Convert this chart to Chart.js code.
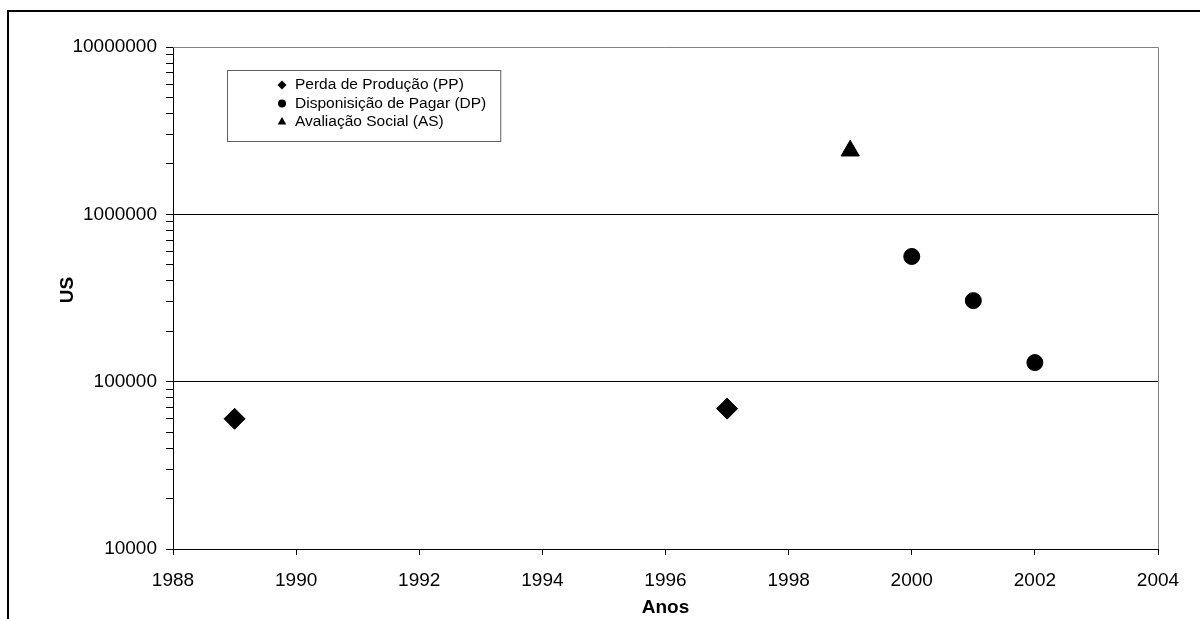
<!DOCTYPE html>
<html>
<head>
<meta charset="utf-8">
<script src="https://cdn.jsdelivr.net/npm/chart.js@4.4.0/dist/chart.umd.min.js"></script>
<style>
  html, body { margin: 0; padding: 0; background: #fff; overflow: hidden; }
  #wrap { width: 1200px; height: 619px; position: relative; }
</style>
</head>
<body>
<div id="wrap"><canvas id="c" width="1200" height="619"></canvas></div>
<script>
// Valores estimados (US) por método de avaliação e ano
const ppYears = [1989, 1997];
const ppValues = [60000, 69000];
const dpYears = [2000, 2001, 2002];
const dpValues = [560000, 305000, 130000];
const asYears = [1999];
const asValues = [2400000];

const seriesLabels = ['Perda de Produção (PP)', 'Disponisição de Pagar (DP)', 'Avaliação Social (AS)'];
const xTickYears = [1988, 1990, 1992, 1994, 1996, 1998, 2000, 2002, 2004];
const yMajorTicks = [10000, 100000, 1000000, 10000000];

const toPoints = (xs, ys) => xs.map((x, i) => ({ x: x, y: ys[i] }));
const isPow10 = v => { const l = Math.log10(v); return Math.abs(l - Math.round(l)) < 1e-9; };

// Marcas menores 2..9 entre cada década do eixo logarítmico
function logTicks() {
  const out = [];
  yMajorTicks.forEach((d, i) => {
    out.push({ value: d });
    if (i < yMajorTicks.length - 1) {
      for (let m = 2; m <= 9; m++) out.push({ value: d * m });
    }
  });
  return out;
}

const TICK_FONT = { family: '"Liberation Sans", Arial, sans-serif', size: 19 };
const TITLE_FONT = { family: '"Liberation Sans", Arial, sans-serif', size: 19, weight: 'bold' };

// Moldura externa e fundo branco
const frame = {
  id: 'frame',
  beforeDraw(chart) {
    const ctx = chart.ctx;
    ctx.save();
    ctx.fillStyle = '#fff';
    ctx.fillRect(0, 0, chart.width, chart.height);
    ctx.strokeStyle = '#000';
    ctx.lineWidth = 2;
    ctx.strokeRect(8, 11, chart.width + 20, chart.height + 20);
    ctx.restore();
  },
  afterDraw(chart) {
    const a = chart.chartArea, ctx = chart.ctx;
    ctx.save();
    ctx.strokeStyle = '#808080';
    ctx.lineWidth = 1;
    ctx.beginPath();
    ctx.moveTo(a.left, Math.round(a.top) + 0.5);
    ctx.lineTo(Math.round(a.right) + 0.5, Math.round(a.top) + 0.5);
    ctx.lineTo(Math.round(a.right) + 0.5, a.bottom);
    ctx.stroke();
    ctx.restore();
  }
};

// Caixa de legenda dentro da área do gráfico
const legendBox = {
  id: 'legendBox',
  afterDatasetsDraw(chart, args, opts) {
    const ctx = chart.ctx;
    ctx.save();
    ctx.font = opts.font;
    const widths = chart.data.datasets.map(ds => ctx.measureText(ds.label).width);
    const w = opts.textX + Math.max(...widths) + opts.padRight;
    ctx.fillStyle = '#fff';
    ctx.fillRect(opts.x, opts.y, w, opts.h);
    ctx.strokeStyle = '#606060';
    ctx.lineWidth = 1;
    ctx.strokeRect(opts.x + 0.5, opts.y + 0.5, w, opts.h);
    ctx.textBaseline = 'middle';
    chart.data.datasets.forEach((ds, i) => {
      const cy = opts.y + opts.firstRow + i * opts.rowGap;
      ctx.fillStyle = '#000';
      ctx.strokeStyle = '#000';
      Chart.helpers.drawPoint(ctx, { pointStyle: ds.pointStyle, radius: opts.markerRadius[i], borderWidth: 0, rotation: 0 },
        opts.x + opts.markerX, cy);
      ctx.fillStyle = '#000';
      ctx.fillText(ds.label, opts.x + opts.textX, cy);
    });
    ctx.restore();
  }
};

new Chart(document.getElementById('c'), {
  type: 'scatter',
  data: {
    datasets: [
      { label: seriesLabels[0], data: toPoints(ppYears, ppValues), pointStyle: 'rectRot',
        pointRadius: 10.5, backgroundColor: '#000', borderColor: '#000', borderWidth: 1 },
      { label: seriesLabels[1], data: toPoints(dpYears, dpValues), pointStyle: 'circle',
        pointRadius: 8, backgroundColor: '#000', borderColor: '#000', borderWidth: 1 },
      { label: seriesLabels[2], data: toPoints(asYears, asValues), pointStyle: 'triangle',
        pointRadius: 10.5, backgroundColor: '#000', borderColor: '#000', borderWidth: 1 }
    ]
  },
  options: {
    responsive: false,
    animation: false,
    devicePixelRatio: 1,
    events: [],
    layout: { padding: { left: 56, top: 47, right: 42, bottom: 0 } },
    plugins: {
      legend: { display: false },
      tooltip: { enabled: false },
      legendBox: {
        x: 227, y: 70, h: 71, firstRow: 15, rowGap: 18.5,
        markerX: 55, textX: 68, padRight: 14,
        markerRadius: [4.5, 4, 5],
        font: '15.5px "Liberation Sans", Arial, sans-serif'
      }
    },
    scales: {
      x: {
        type: 'linear',
        min: 1988, max: 2004,
        afterBuildTicks: s => { s.ticks = xTickYears.map(v => ({ value: v })); },
        afterFit: s => { s.height = 70; },
        ticks: { color: '#000', font: TICK_FONT, padding: 14, autoSkip: false, maxRotation: 0,
                 callback: v => String(v) },
        grid: { drawOnChartArea: false, tickLength: 6, tickColor: '#000' },
        border: { color: '#000', width: 1 },
        title: { display: true, text: 'Anos', color: '#000', font: TITLE_FONT, padding: { top: 0, bottom: 0 } }
      },
      y: {
        type: 'logarithmic',
        min: 10000, max: 10000000,
        afterBuildTicks: s => { s.ticks = logTicks(); },
        afterFit: s => { s.width = 117; },
        ticks: { color: '#000', font: TICK_FONT, padding: 9, autoSkip: false,
                 callback: v => isPow10(v) ? String(v) : '' },
        grid: {
          color: c => (c.tick && isPow10(c.tick.value) && c.tick.value > 10000 && c.tick.value < 10000000) ? '#000' : 'rgba(0,0,0,0)',
          tickColor: '#000', tickLength: 7, lineWidth: 1
        },
        border: { color: '#000', width: 1 },
        title: { display: true, text: '   US', color: '#000', font: TITLE_FONT, padding: 0 }
      }
    }
  },
  plugins: [frame, legendBox]
});
</script>
</body>
</html>
